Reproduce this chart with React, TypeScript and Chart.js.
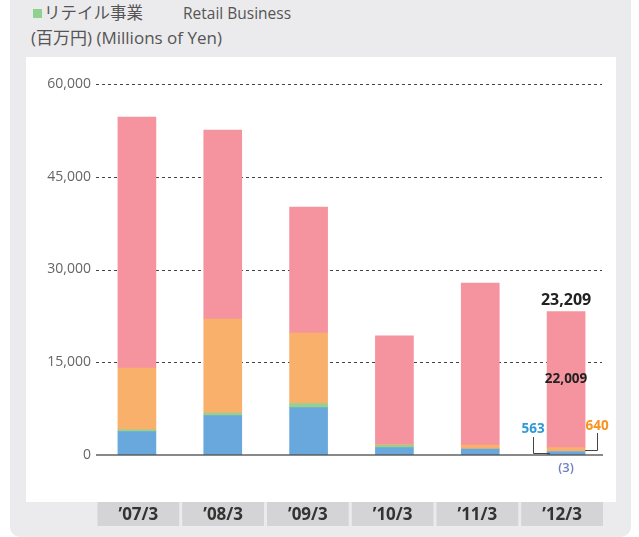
import React, { useEffect, useRef } from "react";
import { Chart, registerables } from "chart.js";

Chart.register(...registerables);

// ---- data ----
const categories = ["’07/3", "’08/3", "’09/3", "’10/3", "’11/3", "’12/3"];
const blueValues = [3770, 6360, 7650, 1190, 970, 563];
const greenValues = [320, 430, 650, 390, 0, -3];
const orangeValues = [9980, 15200, 11430, 100, 650, 640];
const pinkValues = [40590, 30570, 20380, 17610, 26190, 22009];
const yTickValues = [0, 15000, 30000, 45000, 60000];
// annotated values for the last year
const lastTotal = 23209;

const COLORS = {
  blue: "#68a8dc",
  green: "#95d093",
  orange: "#f9b06b",
  pink: "#f5949f",
};

const FONT = "'Open Sans', 'Noto Sans CJK JP', sans-serif";

const fmt = (v: number) =>
  v < 0 ? `(${Math.abs(v).toLocaleString("en-US")})` : v.toLocaleString("en-US");

const decorPlugin = {
  id: "decor",
  beforeDatasetsDraw(chart: any) {
    const { ctx, chartArea } = chart;
    const y = chart.scales.y;
    const x0 = chartArea.left + 2;
    const x1 = chartArea.right - 7;
    ctx.save();
    ctx.strokeStyle = "#444";
    ctx.lineWidth = 1;
    ctx.setLineDash([3, 3]);
    yTickValues.forEach((v) => {
      if (v === 0) return;
      const py = Math.round(y.getPixelForValue(v)) + 0.5;
      ctx.beginPath();
      ctx.moveTo(x0, py);
      ctx.lineTo(x1, py);
      ctx.stroke();
    });
    ctx.restore();
  },
  afterDatasetsDraw(chart: any) {
    const { ctx, chartArea } = chart;
    const y = chart.scales.y;
    const x0 = chartArea.left + 2;
    const x1 = chartArea.right - 6;
    const zeroY = y.getPixelForValue(0);
    ctx.save();
    // zero line
    ctx.strokeStyle = "rgba(80,80,80,0.9)";
    ctx.lineWidth = 1.5;
    ctx.beginPath();
    ctx.moveTo(x0, zeroY);
    ctx.lineTo(x1, zeroY);
    ctx.stroke();

    // category label boxes
    const start = chartArea.left + 3.5;
    const end = chartArea.right - 6;
    const gap = 3;
    const n = categories.length;
    const w = (end - start - gap * (n - 1)) / n;
    const boxTop = chartArea.bottom + 47;
    const boxH = 24;
    ctx.textAlign = "center";
    ctx.textBaseline = "middle";
    ctx.font = `bold 17px ${FONT}`;
    categories.forEach((c, i) => {
      const bx = start + i * (w + gap);
      ctx.fillStyle = "#d4d4d6";
      ctx.fillRect(bx, boxTop, w, boxH);
      ctx.fillStyle = "#333";
      ctx.fillText(c, bx + w / 2, boxTop + boxH / 2 + 1);
    });

    // annotations for last bar
    const li = n - 1;
    const pinkBar = chart.getDatasetMeta(3).data[li];
    const blueBar = chart.getDatasetMeta(0).data[li];
    const orangeBar = chart.getDatasetMeta(2).data[li];
    const cx = pinkBar.x;
    const half = pinkBar.width / 2;

    ctx.fillStyle = "#222";
    ctx.font = `bold 16px ${FONT}`;
    ctx.fillText(fmt(lastTotal), cx, pinkBar.y - 11);

    ctx.font = `bold 13.5px ${FONT}`;
    ctx.fillText(fmt(pinkValues[li]), cx, (pinkBar.y + pinkBar.base) / 2);

    // blue label + leader
    const blueMid = (blueBar.y + blueBar.base) / 2;
    const bxLabel = cx - 33;
    ctx.fillStyle = "#2f9ad8";
    ctx.fillText(fmt(blueValues[li]), bxLabel, zeroY - 26);
    ctx.strokeStyle = "#444";
    ctx.lineWidth = 1;
    ctx.beginPath();
    ctx.moveTo(Math.round(bxLabel) + 0.5, zeroY - 18);
    ctx.lineTo(Math.round(bxLabel) + 0.5, Math.round(blueMid) + 0.5);
    ctx.lineTo(cx - half + 3, Math.round(blueMid) + 0.5);
    ctx.stroke();

    // orange label + leader
    const orangeMid = (orangeBar.y + orangeBar.base) / 2;
    const oxLabel = cx + 31;
    ctx.fillStyle = "#f7931e";
    ctx.fillText(fmt(orangeValues[li]), oxLabel, zeroY - 29);
    ctx.beginPath();
    ctx.moveTo(Math.round(oxLabel) + 0.5, zeroY - 22);
    ctx.lineTo(Math.round(oxLabel) + 0.5, Math.round(orangeMid) + 0.5);
    ctx.lineTo(cx + half, Math.round(orangeMid) + 0.5);
    ctx.stroke();

    // green (negative) label
    ctx.fillStyle = "#6f80c0";
    ctx.font = `600 13px ${FONT}`;
    ctx.fillText(fmt(greenValues[li]), cx, zeroY + 13);
    ctx.restore();
  },
};

export default function App() {
  const ref = useRef<HTMLCanvasElement>(null);

  useEffect(() => {
    if (!ref.current) return;
    const chart = new Chart(ref.current, {
      type: "bar",
      data: {
        labels: categories,
        datasets: [
          { label: "blue", data: blueValues, backgroundColor: COLORS.blue },
          { label: "green", data: greenValues, backgroundColor: COLORS.green },
          { label: "orange", data: orangeValues, backgroundColor: COLORS.orange },
          { label: "pink", data: pinkValues, backgroundColor: COLORS.pink },
        ],
      },
      options: {
        responsive: false,
        animation: false,
        devicePixelRatio: 1,
        layout: { padding: { left: 0, right: 7, top: 27, bottom: 75 } },
        datasets: { bar: { barThickness: 38, borderWidth: 0 } },
        plugins: {
          legend: { display: false },
          tooltip: { enabled: false },
        },
        scales: {
          x: {
            stacked: true,
            display: false,
          },
          y: {
            stacked: true,
            min: 0,
            max: 60000,
            afterFit: (s: any) => {
              s.width = 68;
            },
            afterBuildTicks: (s: any) => {
              s.ticks = yTickValues.map((v) => ({ value: v }));
            },
            grid: { display: false, drawTicks: false },
            border: { display: false },
            ticks: {
              padding: 3,
              color: "#666",
              font: { size: 14, family: FONT },
              callback: (v: any) => Number(v).toLocaleString("en-US"),
            },
          },
        },
      },
      plugins: [decorPlugin],
    });
    return () => chart.destroy();
  }, []);

  const textStyle: React.CSSProperties = {
    position: "absolute",
    fontFamily: FONT,
    color: "#555",
    lineHeight: "20px",
    whiteSpace: "nowrap",
  };

  return (
    <div
      style={{
        position: "absolute",
        left: 0,
        top: 0,
        width: 639,
        height: 537,
        background: "#fff",
        overflow: "hidden",
      }}
    >
      <div
        style={{
          position: "absolute",
          left: 10,
          top: -12,
          width: 621,
          height: 549,
          background: "#ebebed",
          borderRadius: 10,
        }}
      />
      <div
        style={{
          position: "absolute",
          left: 33,
          top: 9,
          width: 9,
          height: 9,
          background: "#8fd18f",
        }}
      />
      <div style={{ ...textStyle, fontSize: 16.5, left: 44, top: 3 }}>リテイル事業</div>
      <div style={{ ...textStyle, fontSize: 15.5, left: 183, top: 3 }}>Retail Business</div>
      <div style={{ ...textStyle, fontSize: 17, left: 31, top: 28 }}>(百万円) (Millions of Yen)</div>
      <div
        style={{
          position: "absolute",
          left: 26,
          top: 57,
          width: 590,
          height: 445,
          background: "#fff",
        }}
      />
      <div style={{ position: "absolute", left: 26, top: 57, width: 590, height: 473 }}>
        <canvas ref={ref} width={590} height={473} style={{ width: 590, height: 473 }} />
      </div>
    </div>
  );
}
